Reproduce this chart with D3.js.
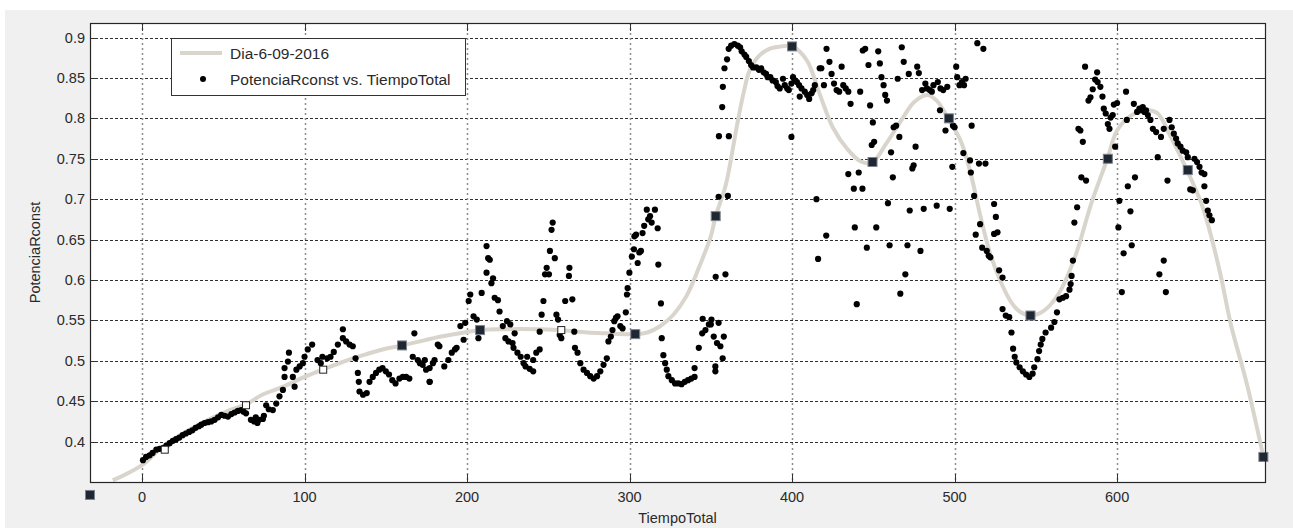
<!DOCTYPE html>
<html>
<head>
<meta charset="utf-8">
<script src="https://cdn.jsdelivr.net/npm/d3@7"></script>
<style>
  body { margin: 0; background: #fff; }
  text { font-family: "Liberation Sans", Arial, sans-serif; fill: #2a2a2a; }
</style>
</head>
<body>
<script>
// measured samples: PotenciaRconst vs TiempoTotal
let dotT = [
  0.6,2.5,4.7,6.5,8.8,10.8,12.9,15,17,19,21,23,25,27,29,31,33,35,36.5,38.5,40.6,42.6,44.7,46.8,48.8,50.8,52.9,55,57,59,61,62.5,64,67,69,70,71,72,74.4,75,76.4,78,80.5,82.6,84.6,86.7,87.7,87.7,89.8,90.4,92.8,93.9,95,97,99,100,102,104.7,108,110,111,114,116,118,120.5,123.6,123.6,125.6,127.7,129.7,131.4,132.8,133.4,133.8,136,138.3,140,142,144,146,148,150,152,154,156,158.4,160.5,162.5,164.5,166.6,167.6,169.7,172.7,174.8,177,179,182,
  171,174,177,177,180,183,186,188.5,190.6,192.6,193.6,195.9,197.9,198.9,201,202,204,206,207,209,212,213,214,212,215,216,217,219,220,222,224.6,226.6,223.6,225.5,228,228.6,229.3,231,233,234.8,236,238.5,240.7,237,240.7,242.6,244.7,244.7,245.9,247,248,249,250.4,251,252,252.7,254,255,256,257,258,260.4,262.7,263,264.8,266,266.4,268,269.7,271.7,273.8,275.8,277.9,280,282,284,286,287,288.5,289.5,290.6,291.6,292.6,294.3,295.7,297.7,298.4,298.8,299.9,301.4,302.7,303,304,305,306,307,308,309,310.6,311.5,312.6,313.6,315.6,317.3,317.7,319.3,319.8,320.8,321.9,322.9,323.9,326,328,330,332,334,336,338,340,340,342.6,344.7,346.7,348.8,350.4,351.8,352.8,352.8,353.8,354.8,355.9,357.3,358,359,360.5,361.1,
  345,350,353,354.8,355,357,357.4,358.4,360,361,362.5,364.5,366.6,368,369,370.7,371.8,373.4,374.8,376,378,379.6,381,382.5,384,385,386.6,388,390,391,392.4,394.4,395.5,397,398,399.6,399.6,400.6,401.6,403,404.3,404.7,405.8,407.8,409.3,410.5,412,413,414,415,416,417,418,419.6,421,421.2,423,424.3,425.8,427.4,429,430.5,431.5,433,434.6,434.6,436,438,438.6,439.8,441,441.9,443.3,443.5,445,446,447,448,449,449.7,450.5,451.8,453,454,455,456.3,457.3,458.4,459,460,460.9,462,462.5,464,465,466,466.6,467.5,468.7,469.7,471,472.4,471.8,474,474.8,476,477,478,479,480,481,482,483,484.7,486,487,489,489.7,491,491.3,493,494.4,495.5,497,498.6,499,500,501,501.6,503,504.5,505.8,506.8,505.4,509.5,510,510.5,512,513,514,515,515.7,517,517.7,519,519.8,521,522,524.3,525.4,524.3,526.4,527.4,529.5,529.5,531.5,533.6,
  535,536,537,538,540,542,544,546,548,549,551,552,553,554,556,559.4,561.4,563,564.5,566.6,568.6,570.7,571.4,572,572.8,573.7,575.4,576.2,577.4,578.9,578,580.9,580.3,582.4,583.6,585,586.5,587.7,588,589.7,591,591.8,593,594.3,595.3,596,597.3,598.8,598,600,601.4,600.8,602.9,604,605.5,606,606.6,608.2,609,610.3,611,612.3,613.7,614.8,615.8,616.8,617.8,618.9,620.5,622,624,625,626,627,628.7,628.7,630,631,632.2,633.6,634.9,636.3,637.3,639,640.4,642.5,643.5,645,646.6,647.6,649.2,650.7,652,653.7,653.7,654.8,655.8,656.8,658.3
];
let dotP = [
  0.377,0.381,0.383,0.386,0.390,0.391,0.392,0.395,0.398,0.401,0.403,0.405,0.408,0.410,0.412,0.414,0.417,0.419,0.421,0.423,0.424,0.425,0.427,0.430,0.433,0.432,0.431,0.434,0.436,0.438,0.439,0.437,0.435,0.427,0.425,0.430,0.423,0.427,0.428,0.432,0.445,0.440,0.439,0.447,0.456,0.464,0.480,0.491,0.499,0.510,0.480,0.468,0.489,0.493,0.497,0.505,0.514,0.520,0.501,0.497,0.505,0.503,0.505,0.511,0.520,0.528,0.539,0.524,0.520,0.518,0.503,0.485,0.474,0.462,0.458,0.460,0.474,0.480,0.485,0.489,0.491,0.487,0.483,0.476,0.472,0.478,0.480,0.480,0.478,0.505,0.534,0.501,0.495,0.489,0.474,0.497,0.520,
  0.497,0.501,0.491,0.474,0.501,0.518,0.493,0.501,0.510,0.514,0.516,0.543,0.526,0.547,0.574,0.582,0.555,0.551,0.528,0.584,0.642,0.627,0.625,0.609,0.596,0.602,0.578,0.575,0.561,0.543,0.549,0.545,0.528,0.524,0.522,0.516,0.534,0.510,0.505,0.497,0.493,0.490,0.487,0.505,0.501,0.510,0.514,0.536,0.557,0.574,0.607,0.615,0.607,0.636,0.662,0.671,0.627,0.557,0.551,0.532,0.528,0.574,0.605,0.615,0.576,0.536,0.516,0.510,0.497,0.489,0.485,0.481,0.478,0.481,0.487,0.495,0.503,0.524,0.530,0.538,0.549,0.553,0.555,0.543,0.540,0.560,0.582,0.590,0.609,0.629,0.638,0.654,0.656,0.621,0.634,0.636,0.658,0.667,0.687,0.675,0.679,0.671,0.687,0.664,0.619,0.571,0.528,0.507,0.497,0.489,0.481,0.476,0.472,0.472,0.471,0.474,0.476,0.478,0.480,0.491,0.516,0.534,0.538,0.545,0.551,0.530,0.493,0.487,0.522,0.547,0.518,0.503,0.530,0.607,0.704,0.778,
  0.552,0.545,0.604,0.703,0.778,0.814,0.839,0.862,0.873,0.886,0.890,0.892,0.890,0.888,0.883,0.879,0.876,0.871,0.866,0.863,0.863,0.860,0.862,0.857,0.855,0.851,0.851,0.847,0.845,0.840,0.837,0.849,0.841,0.837,0.835,0.843,0.777,0.851,0.847,0.845,0.841,0.827,0.837,0.833,0.829,0.824,0.831,0.835,0.841,0.700,0.626,0.862,0.862,0.841,0.655,0.886,0.870,0.855,0.843,0.835,0.833,0.864,0.841,0.837,0.833,0.731,0.818,0.713,0.665,0.570,0.733,0.833,0.713,0.884,0.886,0.640,0.866,0.816,0.767,0.795,0.771,0.665,0.883,0.868,0.851,0.841,0.829,0.822,0.695,0.643,0.758,0.727,0.789,0.791,0.849,0.777,0.583,0.888,0.870,0.607,0.643,0.686,0.855,0.738,0.742,0.765,0.864,0.856,0.636,0.835,0.688,0.843,0.837,0.835,0.833,0.841,0.692,0.845,0.810,0.837,0.835,0.785,0.839,0.688,0.740,0.791,0.789,0.864,0.851,0.841,0.845,0.841,0.849,0.757,0.748,0.733,0.791,0.704,0.656,0.893,0.744,0.669,0.640,0.886,0.744,0.636,0.630,0.628,0.694,0.678,0.657,0.659,0.612,0.603,0.564,0.556,0.554,
  0.535,0.515,0.505,0.498,0.492,0.487,0.483,0.480,0.484,0.492,0.502,0.512,0.520,0.527,0.535,0.541,0.548,0.560,0.576,0.578,0.580,0.588,0.595,0.605,0.624,0.671,0.690,0.787,0.785,0.771,0.727,0.723,0.864,0.822,0.826,0.836,0.848,0.857,0.845,0.839,0.827,0.812,0.806,0.793,0.787,0.801,0.804,0.765,0.817,0.819,0.698,0.665,0.585,0.633,0.833,0.798,0.716,0.685,0.643,0.818,0.727,0.808,0.812,0.810,0.814,0.808,0.810,0.804,0.798,0.787,0.783,0.752,0.607,0.777,0.787,0.624,0.585,0.723,0.798,0.789,0.781,0.775,0.769,0.765,0.760,0.758,0.752,0.712,0.711,0.750,0.746,0.740,0.733,0.731,0.716,0.698,0.686,0.680,0.674
];

// smoothing fit
let fitT = [-18,0,13,33,54,64,74,87,100,111,124,136,148,160,173,184,198,208,222,243,256,274,286,303,311,319,327,335,343,350,353,359,362,366,370,374,380,386,393,400,409,417,425,434,442,449,458,467,475,483,489,496,504,510,516,522,529,535,540,547,555,564,574,584,594,600,609,619,625,633,643,652,658,664,670,680,690];
let fitP = [0.352,0.371,0.394,0.419,0.439,0.446,0.458,0.468,0.480,0.489,0.499,0.507,0.514,0.519,0.525,0.530,0.535,0.538,0.539,0.539,0.538,0.535,0.534,0.533,0.535,0.543,0.557,0.580,0.617,0.654,0.679,0.716,0.745,0.790,0.830,0.860,0.878,0.886,0.889,0.889,0.872,0.830,0.789,0.762,0.747,0.745,0.769,0.797,0.820,0.829,0.822,0.800,0.771,0.731,0.678,0.632,0.595,0.572,0.561,0.556,0.562,0.583,0.628,0.694,0.750,0.785,0.804,0.810,0.806,0.777,0.736,0.694,0.653,0.603,0.545,0.470,0.381];

// square markers on the fit
let knotT = [-32,14,64,111.5,160,208,258,303.5,353,400,449.5,496.5,546.7,594.3,643.5,690];
let knotP = [0.334,0.390,0.445,0.489,0.519,0.538,0.538,0.533,0.679,0.889,0.746,0.800,0.556,0.750,0.736,0.381];
let hollowKnots = [1, 2, 3, 6];

let xTicks = [0, 100, 200, 300, 400, 500, 600];
let yTicks = [0.4, 0.45, 0.5, 0.55, 0.6, 0.65, 0.7, 0.75, 0.8, 0.85, 0.9];
let yTickLabels = ["0.4", "0.45", "0.5", "0.55", "0.6", "0.65", "0.7", "0.75", "0.8", "0.85", "0.9"];

let size = {width: 1293, height: 528};
let box = {left: 90, top: 23, right: 1265, bottom: 482};

let svg = d3.select("body").append("svg")
    .attr("width", size.width).attr("height", size.height);

// figure background
svg.append("rect").attr("x", 5).attr("y", 10)
    .attr("width", size.width - 5).attr("height", size.height - 10)
    .attr("fill", "#f0f0f0");

let x = d3.scaleLinear().domain([-32, 691]).range([box.left, box.right]);
let y = d3.scaleLinear().domain([0.35, 0.918]).range([box.bottom, box.top]);

svg.append("rect")
    .attr("x", box.left).attr("y", box.top)
    .attr("width", box.right - box.left).attr("height", box.bottom - box.top)
    .attr("fill", "#fff");

svg.append("clipPath").attr("id", "plotClip").append("rect")
    .attr("x", box.left).attr("y", box.top)
    .attr("width", box.right - box.left).attr("height", box.bottom - box.top);

// grid
let grid = svg.append("g");
grid.selectAll(".hg").data(yTicks).join("line")
    .attr("x1", box.left).attr("x2", box.right)
    .attr("y1", d => Math.round(y(d)) + 0.5).attr("y2", d => Math.round(y(d)) + 0.5)
    .attr("stroke", "#303030").attr("stroke-dasharray", "3,2");
grid.selectAll(".vg").data(xTicks).join("line")
    .attr("y1", box.top).attr("y2", box.bottom)
    .attr("x1", d => Math.round(x(d)) + 0.5).attr("x2", d => Math.round(x(d)) + 0.5)
    .attr("stroke", "#8c8c8c").attr("stroke-width", 1.5).attr("stroke-dasharray", "2,3");

// inward ticks on all four sides
let tickLen = 8;
let ticks = svg.append("g").attr("stroke", "#333");
xTicks.forEach(t => {
  let px = Math.round(x(t)) + 0.5;
  ticks.append("line").attr("x1", px).attr("x2", px).attr("y1", box.bottom).attr("y2", box.bottom - tickLen);
  ticks.append("line").attr("x1", px).attr("x2", px).attr("y1", box.top).attr("y2", box.top + tickLen);
});
yTicks.forEach(t => {
  let py = Math.round(y(t)) + 0.5;
  ticks.append("line").attr("x1", box.left).attr("x2", box.left + tickLen).attr("y1", py).attr("y2", py);
  ticks.append("line").attr("x1", box.right).attr("x2", box.right - tickLen).attr("y1", py).attr("y2", py);
});

// fit line
let fitData = fitT.map((t, i) => [t, fitP[i]]);
svg.append("path").datum(fitData)
    .attr("clip-path", "url(#plotClip)")
    .attr("fill", "none").attr("stroke", "#d9d5cd").attr("stroke-width", 4)
    .attr("d", d3.line().x(d => x(d[0])).y(d => y(d[1])).curve(d3.curveCatmullRom));

// data dots
let dots = dotT.map((t, i) => [t, dotP[i]]);
svg.append("g").selectAll("circle").data(dots).join("circle")
    .attr("cx", d => x(d[0])).attr("cy", d => y(d[1])).attr("r", 3.1)
    .attr("fill", "#000");

// knot squares
let knots = knotT.map((t, i) => ({t: t, p: knotP[i], hollow: hollowKnots.includes(i)}));
svg.append("g").selectAll("rect").data(knots).join("rect")
    .attr("x", d => x(d.t) - (d.hollow ? 3.5 : 4.5))
    .attr("y", d => y(d.p) - (d.hollow ? 3.5 : 4.5))
    .attr("width", d => d.hollow ? 7 : 9).attr("height", d => d.hollow ? 7 : 9)
    .attr("fill", d => d.hollow ? "#fff" : "#1f2733")
    .attr("stroke", d => d.hollow ? "#222" : "#7d838c").attr("stroke-width", 1);

// frame
svg.append("rect")
    .attr("x", box.left + 0.5).attr("y", box.top + 0.5)
    .attr("width", box.right - box.left).attr("height", box.bottom - box.top)
    .attr("fill", "none").attr("stroke", "#262626").attr("stroke-width", 1.2);

// tick labels
svg.append("g").selectAll("text").data(xTicks).join("text")
    .attr("x", d => x(d)).attr("y", box.bottom + 20)
    .attr("text-anchor", "middle").attr("font-size", 14.5)
    .text(d => d);
svg.append("g").selectAll("text").data(yTicks).join("text")
    .attr("x", box.left - 5).attr("y", d => y(d) + 5)
    .attr("text-anchor", "end").attr("font-size", 14.5)
    .text((d, i) => yTickLabels[i]);

// axis titles
svg.append("text")
    .attr("x", (box.left + box.right) / 2).attr("y", 523)
    .attr("text-anchor", "middle").attr("font-size", 14.5)
    .text("TiempoTotal");
svg.append("text")
    .attr("transform", `translate(40,${(box.top + box.bottom) / 2}) rotate(-90)`)
    .attr("text-anchor", "middle").attr("font-size", 14.5)
    .text("PotenciaRconst");

// legend
let legend = svg.append("g");
legend.append("rect").attr("x", 171.5).attr("y", 38.5).attr("width", 294).attr("height", 57)
    .attr("fill", "#fff").attr("stroke", "#333");
legend.append("line").attr("x1", 180).attr("x2", 222).attr("y1", 53).attr("y2", 53)
    .attr("stroke", "#d9d5cd").attr("stroke-width", 4);
legend.append("circle").attr("cx", 203).attr("cy", 79).attr("r", 3).attr("fill", "#000");
legend.append("text").attr("x", 230).attr("y", 59).attr("font-size", 15.5).text("Dia-6-09-2016");
legend.append("text").attr("x", 230).attr("y", 85).attr("font-size", 15.5).text("PotenciaRconst vs. TiempoTotal");
</script>
</body>
</html>
